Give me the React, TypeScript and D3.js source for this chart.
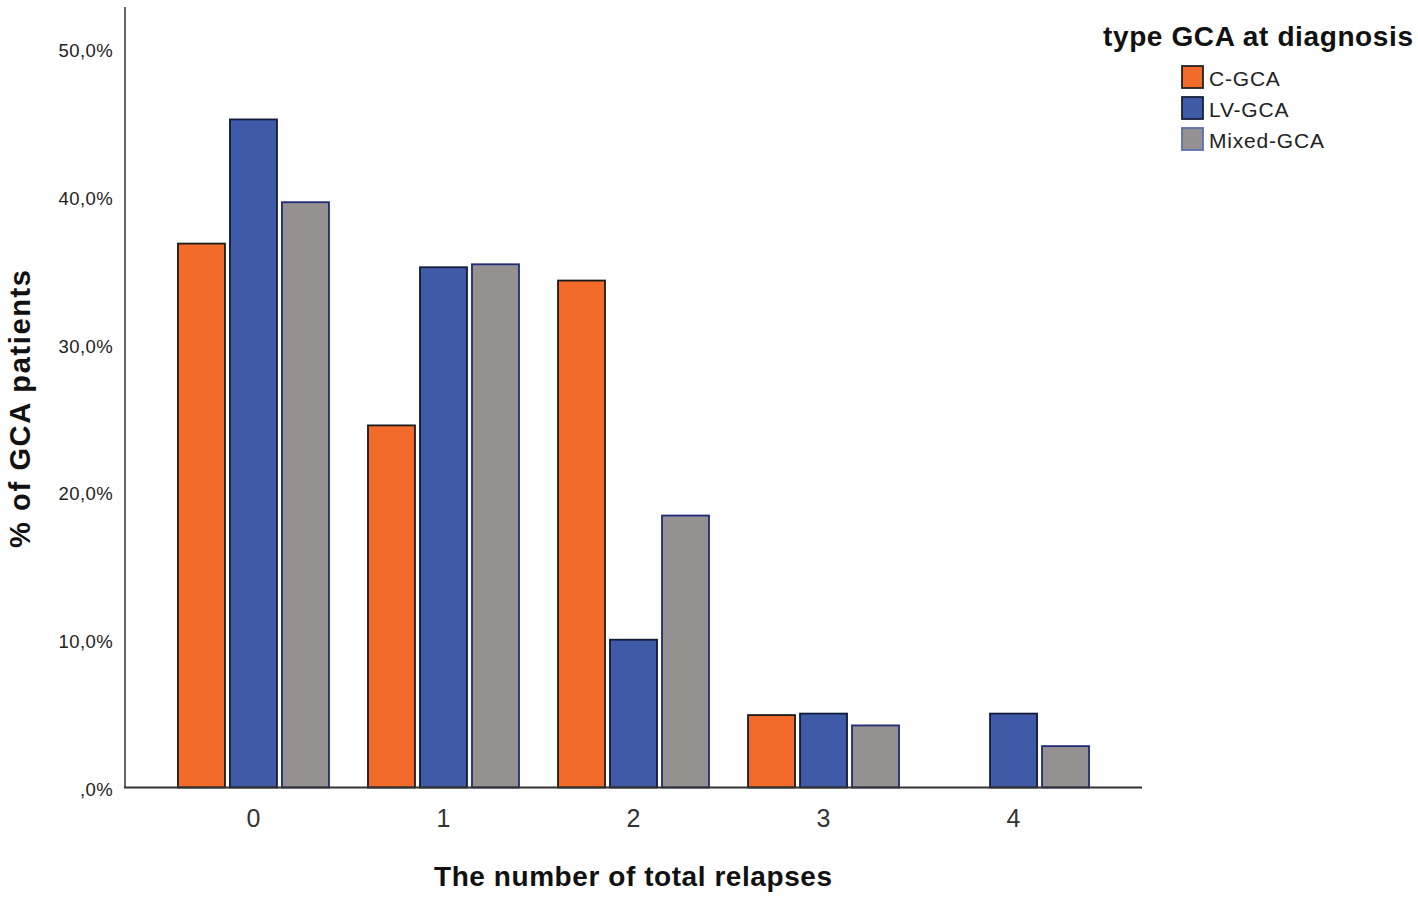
import React from "react";
import * as d3 from "d3";

const categories = ["0", "1", "2", "3", "4"];
const seriesNames = ["C-GCA", "LV-GCA", "Mixed-GCA"];
const cgca = [36.8, 24.5, 34.3, 4.9, 0];
const lvgca = [45.2, 35.2, 10.0, 5.0, 5.0];
const mixed = [39.6, 35.4, 18.4, 4.2, 2.8];
const yTicks = [0, 10, 20, 30, 40, 50];
const yTickLabels = [",0%", "10,0%", "20,0%", "30,0%", "40,0%", "50,0%"];

const fills = ["#F26B2B", "#3F5BA8", "#959191"];
const strokes = ["#1a1a1a", "#111a3a", "#1f2a78"];
const legendStrokes = ["#222", "#1a1f3a", "#5b6fb0"];

const W = 1418;
const H = 898;
const FONT = "'Liberation Sans', Arial, Helvetica, sans-serif";

export default function App() {
  const values = [cgca, lvgca, mixed];
  const x0 = d3
    .scaleBand<string>()
    .domain(categories)
    .range([125, 1142])
    .paddingInner(0)
    .paddingOuter(0.176);
  const bw = x0.bandwidth();
  const groupW = 151;
  const x1 = d3
    .scaleBand<string>()
    .domain(seriesNames)
    .range([(bw - groupW) / 2, (bw + groupW) / 2])
    .paddingInner(0.096)
    .paddingOuter(0);
  const y = d3.scaleLinear().domain([0, 50]).range([787.5, 48.5]);

  return (
    <svg
      width={W}
      height={H}
      style={{ position: "absolute", left: 0, top: 0, background: "#fff" }}
      fontFamily={FONT}
    >
      <rect x={0} y={0} width={W} height={H} fill="#fff" />
      {categories.map((c, ci) => (
        <g key={c} transform={`translate(${x0(c)},0)`}>
          {seriesNames.map((s, si) => {
            const v = values[si][ci];
            if (!v) return null;
            return (
              <rect
                key={s}
                x={x1(s)}
                y={y(v)}
                width={x1.bandwidth()}
                height={y(0) - y(v)}
                fill={fills[si]}
                stroke={strokes[si]}
                strokeWidth={1.8}
              />
            );
          })}
        </g>
      ))}
      <line x1={125} x2={125} y1={7} y2={788} stroke="#666" strokeWidth={2} />
      <line x1={124} x2={1142} y1={787.5} y2={787.5} stroke="#333" strokeWidth={2} />
      {yTicks.map((t, i) => (
        <text
          key={t}
          x={113}
          y={y(t) + 2}
          textAnchor="end"
          dominantBaseline="central"
          fontSize={18.5}
          letterSpacing={0.4}
          fill="#222"
        >
          {yTickLabels[i]}
        </text>
      ))}
      {categories.map((c) => (
        <text
          key={c}
          x={(x0(c) as number) + bw / 2}
          y={818}
          textAnchor="middle"
          dominantBaseline="central"
          fontSize={25}
          fill="#333"
        >
          {c}
        </text>
      ))}
      <text
        x={633}
        y={876}
        textAnchor="middle"
        dominantBaseline="central"
        fontSize={28}
        fontWeight="bold"
        fill="#111"
        textLength={398}
      >
        The number of total relapses
      </text>
      <text
        transform="translate(20,409) rotate(-90)"
        textAnchor="middle"
        dominantBaseline="central"
        fontSize={29}
        fontWeight="bold"
        fill="#111"
        textLength={278}
      >
        % of GCA patients
      </text>
      <text
        x={1103}
        y={36}
        dominantBaseline="central"
        fontSize={28}
        fontWeight="bold"
        fill="#111"
        textLength={310}
      >
        type GCA at diagnosis
      </text>
      {seriesNames.map((s, i) => (
        <g key={s} transform={`translate(1182,${66 + i * 31})`}>
          <rect
            x={0}
            y={0}
            width={21}
            height={22}
            fill={fills[i]}
            stroke={legendStrokes[i]}
            strokeWidth={1.8}
          />
          <text
            x={27}
            y={12}
            dominantBaseline="central"
            fontSize={21}
            letterSpacing={0.8}
            fill="#222"
          >
            {s}
          </text>
        </g>
      ))}
    </svg>
  );
}
